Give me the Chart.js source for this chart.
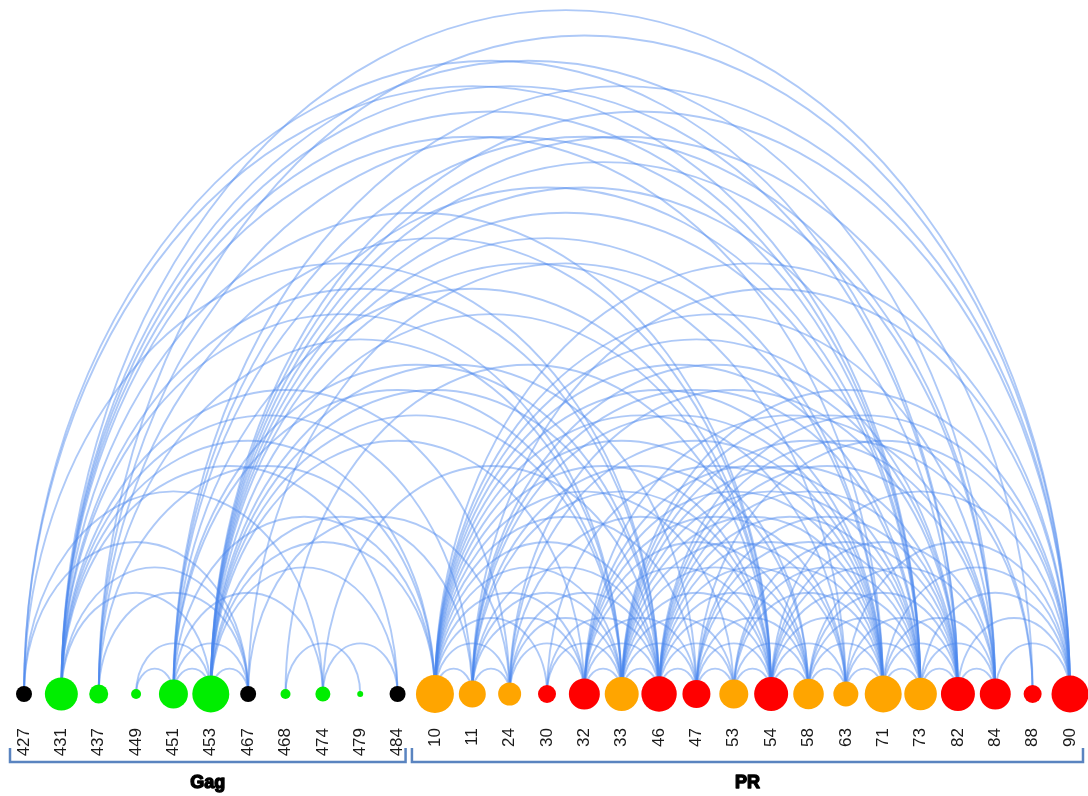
<!DOCTYPE html>
<html>
<head>
<meta charset="utf-8">
<script src="https://cdn.jsdelivr.net/npm/chart.js@4.4.1/dist/chart.umd.min.js"></script>
<style>
  html, body { margin: 0; padding: 0; background: #fff; }
  #wrap { width: 1088px; height: 796px; position: relative; }
</style>
</head>
<body>
<div id="wrap"><canvas id="c"></canvas></div>
<script>
// Residue positions, in drawing order (Gag first, then PR)
const nodeLabels = ['427','431','437','449','451','453','467','468','474','479','484',
                    '10','11','24','30','32','33','46','47','53','54','58','63','71','73','82','84','88','90'];
// k = black, g = green, o = orange, r = red
const nodeKinds  = ['k','g','g','g','g','g','k','g','g','g','k',
                    'o','o','o','r','r','o','r','r','o','r','o','o','o','o','r','r','r','r'];
// bubble radius of each residue
const nodeSizes  = [8,16.5,9.5,5,14.5,18.5,8,5,7.5,3,8,
                    19,13.5,11.5,9,15.5,17,17.7,14,14.5,17,15.3,12.5,18.5,16.3,17,15.5,9,18.5];

// Co-varying residue pairs
const links = [
  // Gag – Gag
  ['427','467'],['427','474'],['431','453'],['431','467'],['431','484'],['437','467'],
  ['449','451'],['449','453'],['451','453'],['451','467'],['451','474'],['453','467'],
  ['453','484'],['468','479'],['474','484'],
  // Gag – PR
  ['427','46'],['427','73'],['427','82'],
  ['431','10'],['431','11'],['431','24'],['431','33'],['431','46'],['431','54'],['431','71'],
  ['431','73'],['431','82'],['431','84'],['431','90'],
  ['437','10'],['437','33'],['437','54'],['437','73'],['437','90'],
  ['451','10'],['451','33'],['451','46'],['451','54'],['451','73'],['451','84'],['451','90'],
  ['453','10'],['453','11'],['453','32'],['453','33'],['453','46'],['453','47'],['453','54'],
  ['453','63'],['453','71'],['453','73'],['453','82'],['453','84'],['453','88'],['453','90'],
  ['467','24'],['467','71'],['468','54'],['474','46'],
  // PR – PR
  ['10','11'],['10','24'],['10','30'],['10','32'],['10','33'],['10','46'],['10','47'],['10','53'],
  ['10','54'],['10','58'],['10','63'],['10','71'],['10','73'],['10','82'],['10','84'],['10','90'],
  ['11','24'],['11','32'],['11','33'],['11','46'],['11','54'],['11','58'],['11','71'],['11','73'],
  ['11','82'],['11','90'],
  ['24','32'],['24','33'],['24','46'],['24','54'],['24','71'],['24','82'],
  ['30','33'],['30','46'],['30','71'],
  ['32','33'],['32','46'],['32','47'],['32','54'],['32','58'],['32','63'],['32','71'],['32','73'],['32','84'],
  ['33','46'],['33','47'],['33','53'],['33','54'],['33','58'],['33','63'],['33','71'],['33','73'],
  ['33','82'],['33','84'],['33','88'],['33','90'],
  ['46','47'],['46','53'],['46','54'],['46','58'],['46','63'],['46','71'],['46','73'],['46','82'],
  ['46','84'],['46','88'],['46','90'],
  ['47','53'],['47','54'],['47','58'],['47','71'],['47','73'],['47','82'],['47','90'],
  ['53','54'],['53','58'],['53','71'],['53','73'],['53','82'],
  ['54','58'],['54','63'],['54','71'],['54','73'],['54','82'],['54','84'],['54','90'],
  ['58','63'],['58','71'],['58','73'],['58','82'],['58','84'],
  ['63','71'],['63','73'],['63','82'],['63','90'],
  ['71','73'],['71','82'],['71','84'],['71','90'],
  ['73','82'],['73','84'],['73','90'],
  ['82','84'],['82','90'],['84','90']
];

// Protein segments shown under the axis
const groupNames = ['Gag', 'PR'];
const groupFirst = ['427', '10'];
const groupLast  = ['484', '90'];

const kindColors = { k: '#000000', g: '#00ee00', o: '#ffa500', r: '#ff0000' };

// Arcs: half ellipses rising from the baseline, taller than wide
const arcPlugin = {
  id: 'arcs',
  beforeDatasetsDraw(chart, args, opts) {
    const { ctx, scales: { x, y } } = chart;
    const y0 = y.getPixelForValue(0);
    ctx.save();
    ctx.strokeStyle = opts.color;
    ctx.lineWidth = opts.width;
    links.forEach(([a, b]) => {
      const i = nodeLabels.indexOf(a), j = nodeLabels.indexOf(b);
      const x1 = x.getPixelForValue(i), x2 = x.getPixelForValue(j);
      const rx = Math.abs(x2 - x1) / 2;
      const ry = y0 - y.getPixelForValue(Math.abs(j - i) / 2 * opts.aspect);
      ctx.beginPath();
      ctx.ellipse((x1 + x2) / 2, y0, rx, ry, 0, Math.PI, 2 * Math.PI);
      ctx.stroke();
    });
    ctx.restore();
  }
};

// Brackets and names of the two protein segments
const groupPlugin = {
  id: 'groups',
  afterDraw(chart, args, opts) {
    const { ctx, scales: { x } } = chart;
    ctx.save();
    groupNames.forEach((name, g) => {
      const left = x.getPixelForValue(nodeLabels.indexOf(groupFirst[g])) - opts.padLeft[g];
      const right = x.getPixelForValue(nodeLabels.indexOf(groupLast[g])) + opts.padRight[g];
      ctx.strokeStyle = opts.color;
      ctx.lineWidth = opts.width;
      ctx.lineJoin = 'miter';
      ctx.beginPath();
      ctx.moveTo(left, opts.top);
      ctx.lineTo(left, opts.bottom);
      ctx.lineTo(right, opts.bottom);
      ctx.lineTo(right, opts.top);
      ctx.stroke();
      ctx.font = opts.font;
      ctx.textAlign = 'center';
      ctx.textBaseline = 'alphabetic';
      ctx.fillStyle = '#000';
      ctx.strokeStyle = '#000';
      ctx.lineWidth = 1.4;
      ctx.lineJoin = 'round';
      const cx = (left + right) / 2;
      ctx.fillText(name, cx, opts.labelY);
      ctx.strokeText(name, cx, opts.labelY);
    });
    ctx.restore();
  }
};

const PX_PER_UNIT = 37.357;

new Chart(document.getElementById('c'), {
  type: 'bubble',
  data: {
    datasets: [{
      data: nodeLabels.map((_, i) => ({ x: i, y: 0, r: nodeSizes[i] })),
      backgroundColor: nodeKinds.map(k => kindColors[k]),
      borderWidth: 0,
      hoverBorderWidth: 0,
      clip: false
    }]
  },
  options: {
    responsive: true,
    maintainAspectRatio: false,
    animation: false,
    events: [],
    layout: { padding: 0, autoPadding: false },
    plugins: {
      legend: { display: false },
      tooltip: { enabled: false },
      arcs: { color: 'rgba(75,135,238,0.45)', width: 1.9, aspect: 1.356 },
      groups: {
        color: '#5a84c0', width: 2.5, top: 748, bottom: 762,
        padLeft: [14, 23], padRight: [8, 13],
        labelY: 788, font: 'bold 18px "Liberation Sans", Arial, sans-serif'
      }
    },
    scales: {
      x: {
        type: 'linear',
        min: -24 / PX_PER_UNIT,
        max: -24 / PX_PER_UNIT + 1088 / PX_PER_UNIT,
        position: 'bottom',
        grid: { display: false, drawTicks: false },
        border: { display: false },
        afterBuildTicks: (axis) => { axis.ticks = nodeLabels.map((_, i) => ({ value: i })); },
        afterFit: (axis) => { axis.height = 84; axis.paddingLeft = 0; axis.paddingRight = 0; },
        ticks: {
          autoSkip: false,
          minRotation: 90,
          maxRotation: 90,
          padding: 16,
          color: '#1a1a1a',
          font: { family: '"Liberation Sans", Arial, sans-serif', size: 17 },
          callback: (v) => nodeLabels[v]
        }
      },
      y: {
        type: 'linear',
        display: false,
        min: -18 / PX_PER_UNIT,
        max: 694 / PX_PER_UNIT
      }
    }
  },
  plugins: [arcPlugin, groupPlugin]
});
</script>
</body>
</html>
